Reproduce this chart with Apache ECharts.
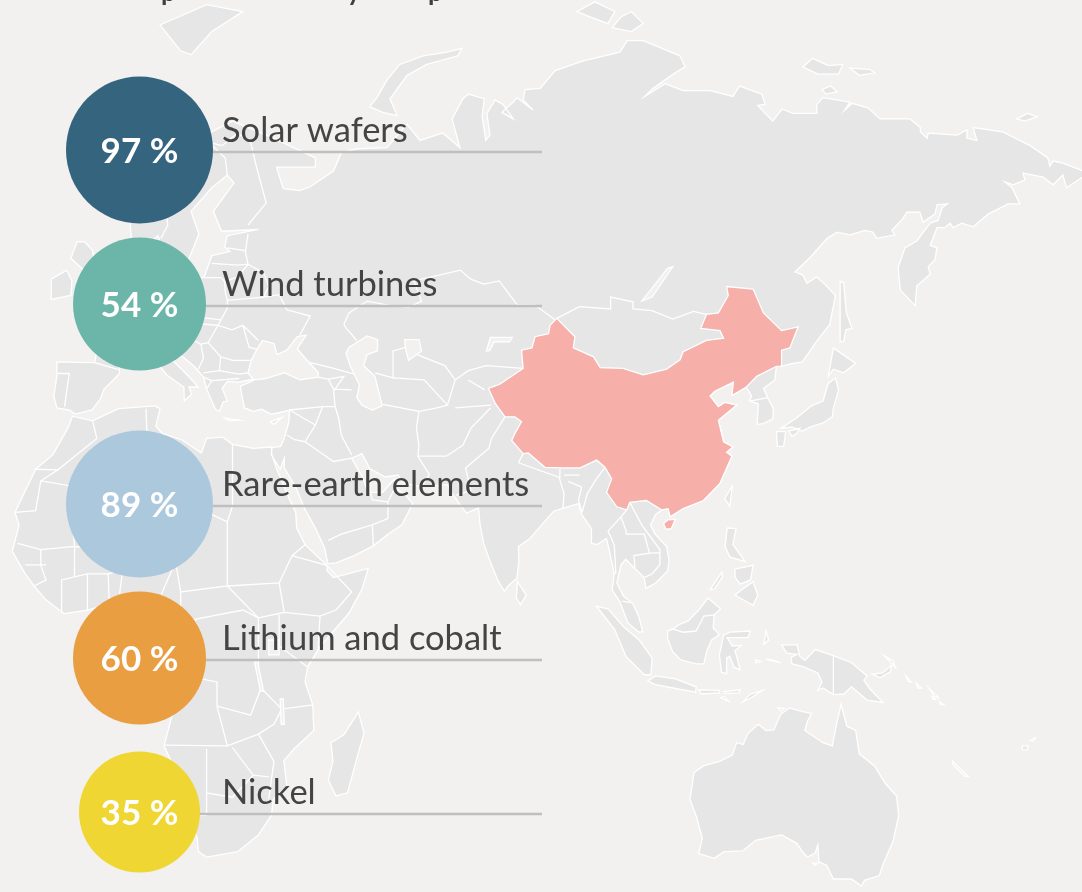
<!DOCTYPE html>
<html>
<head>
<meta charset="utf-8">
<title>China share</title>
<style>
  html, body { margin: 0; padding: 0; background: #f2f1ef; }
  #main { width: 1082px; height: 892px; }
</style>
<script src="https://cdn.jsdelivr.net/npm/echarts@6/dist/echarts.min.js"></script>
</head>
<body>
<div id="main"></div>
<script>
// chart values
var items = ['Solar wafers', 'Wind turbines', 'Rare-earth elements', 'Lithium and cobalt', 'Nickel']
var shares = [97, 54, 89, 60, 35]
var bubbleColors = ['#35647f', '#6cb6a9', '#acc8dc', '#e99e41', '#efd632']

// map outlines, lon,lat
var eurasia = '-9.5,38.7 -8.9,37 -6.4,36.7 -5.4,36.1 -2.1,36.7 -0.5,38.3 0.2,39.7 3.2,41.9 3.1,43.1 4.5,43.4 6.5,43.1 8.8,44.4 10.3,43.5 12.3,41.7 15.6,40 15.7,38 17.1,39 16.6,40 18.4,40 16,41.9 13.6,43.6 12.3,45.2 13.7,45.7 15.2,44.3 17.6,42.9 19.4,41.4 20,39.7 21.7,36.8 22.5,36.5 23.2,37.9 24,38 23,39.8 24,40.8 26.2,40.7 29,41.1 28,42 28.6,43.7 29.7,45.2 30.8,46.4 33,46 33.6,44.5 35.5,45.1 37.5,46.9 39.2,47.1 37.5,45.3 38.9,44.1 41.6,42 41.5,41.4 38,41 35,42 31.4,41.2 29.2,41 26.5,40.1 26.8,38.9 27.3,37 29,36.5 30.6,36.8 32.5,36.1 34,36.3 36,36.7 35.9,35 35,32.5 34.3,31.3 32.6,31.1 32.5,30 34.2,27.8 35,29.5 35,28 37.2,25 39,21.5 41,18.5 42.8,15.2 43.4,12.7 45,12.8 48.5,14 52.2,15.6 55,17.5 57.7,19 59.8,22.4 58.6,23.6 56.4,24.9 56.3,26.3 54,24.2 51.6,24.2 51.5,26 50.8,25 50,26.7 48,29.5 50,30.2 51.5,27.9 54.5,26.6 57,26.9 57.8,25.7 61.5,25.1 66.5,25.4 67.5,23.9 68.8,22.4 70.2,20.9 72.5,21.7 72.8,19 73.5,16 74.8,12.9 76.3,9.8 77.5,8.1 78.2,9 79.9,10.3 80.3,13.1 80.2,15.5 82.3,16.7 85.1,19.4 87,21.2 88.9,21.7 91.8,22.4 92.4,20.7 94.3,18.4 94.3,16 95.4,15.8 97.2,16.8 97.7,15 98.7,11 98.3,8.3 99.7,6.5 100.4,5 101.3,2.9 103.5,1.3 104.2,1.4 103.4,4 102.2,6.2 100.5,7.3 99.2,9.5 100,12.5 100.9,13.4 102.5,12 104.5,10.4 104.8,8.6 106.7,9.5 109,11.5 109.3,13.2 108.8,15.5 106.5,17.6 105.7,19 106.7,20.7 107.9,21.4 109.1,21.6 109.5,20.3 112,21.6 115.9,22.9 119.1,25.6 121.4,29.8 120.4,30.4 121.6,31.2 119.8,32 118.8,35.2 122.3,37.4 120,37.8 118.8,37.2 117.2,38.7 118.1,39.4 121.7,40.7 121.4,38.8 124.2,40 125.2,38.7 124.8,38 126.5,37.6 126.3,34.6 127.5,34.7 129.3,35.4 129.4,36.9 128.3,38.5 127.5,39.8 129.7,41 130,42.9 131,42.9 132.5,43.2 135,43.5 138,46.5 140.3,48.5 141.4,52.2 139.8,53.3 137.8,54.5 135.9,53.7 135.1,54.7 133.6,55.1 136.5,56.8 139.8,59 141.7,59.7 144.2,59.4 147.1,59.9 148.6,59.7 149.4,59 152.9,59.4 152.3,59.9 154.4,61.2 155.2,61.9 157.7,61.9 158.3,60.8 160.6,61.7 161,62.7 163,62.8 162,62.4 161.2,61 159.7,60.7 157.1,58.7 154.8,57.9 153.5,55.6 153.9,52.9 156.8,50.9 157.1,53.4 159.7,54.8 159.3,55.7 160.6,56.5 161,57.9 159.7,58.2 161,60.2 162.5,60.2 163.5,60.7 164.1,60.2 165.8,60.7 168,60.3 170.9,61.7 174.7,62.8 177,62.8 175.5,64.5 174.1,65.1 175.7,64.8 178,65.3 177.6,66 181.5,65.6 183.4,64.8 185.3,65.8 186,64.5 190.3,66 185.3,67 183.4,67.2 182.8,66.7 182.4,67.5 179,68.7 173.7,70 168,70.4 168.7,69.2 166.8,69.4 166.8,70.2 164.9,69.7 159.3,69.9 159.1,69.4 157.8,70 157.8,70.4 155.8,71.2 150,71.2 147.7,72.2 144.6,72.6 143.2,72 144.2,72.7 139,73.1 137.8,72.5 137.8,71.7 133.2,71.7 131.1,72.1 129.3,71 126.4,72.4 127.8,72.5 127.2,73.4 122.9,74.1 121.6,73.2 117.2,73.7 112,73.7 108.5,74.3 104.6,73.2 106.2,73.9 110.4,75.2 112.4,75.7 111.4,76.6 104.3,77.8 101.2,77.8 99.8,76.9 92.7,76.2 87.3,75.4 84.4,73.9 81.5,73.8 81.1,72.9 83,72 79.9,73.1 79.2,72.7 77,71.8 79.2,71.2 77.2,72.5 75.7,72.9 74.1,71.7 74.7,69.7 73.9,69.2 73.2,71.4 73.6,73 70.5,73.4 69.5,73 67.4,71.2 68.9,68.5 65.6,69.9 61.2,69.2 58.7,70.7 54.8,68.5 49,68.4 46,68 44.5,66.2 40,64.6 38,64.2 34.8,64.4 33.5,66.6 41,66.6 41,67.5 33,69.4 25,71 15,68.5 10.5,64.5 5,62 5.5,59 8,58 10.6,59.3 11.5,58 12.5,56 14.3,55.5 16.5,56.5 18.5,59.5 17,62 21,64.5 24,65.8 25.3,65 21.3,62 22.9,59.8 30,60 24,59.3 23.5,58 24.5,57.5 21,57 19.5,54.4 14.2,53.9 11,54 10,55 10.5,57.7 8.2,57 8.7,54 7,53.4 4.7,52.9 3.2,51.4 1.6,50.9 0,49.5 -1.5,49.6 -1.7,48.6 -4.7,48.4 -2.5,47.2 -1,45.7 -1.6,43.4 -8.9,43.5 -8.9,41.5'
var africa = '-5.9,35.8 -2,35.1 3,36.9 10,37.3 11,36.9 10.2,34.3 11.5,33.2 15.2,32.3 19,30.3 20,32.5 23.1,32.7 25,31.6 29,31 32.5,31.2 32.6,30 33.5,27.9 35.5,24 37.2,21 37.4,18.5 39,15.8 43.2,12.4 43.3,11.5 44.5,10.4 51.2,11.9 50,8.5 47.5,4.5 42,-1 39.5,-4.5 39,-7 40.5,-10.8 40.7,-15 37,-17.9 34.9,-19.9 35.5,-24 32.9,-26 32.5,-28.5 30,-31.5 26,-34 20,-34.8 18.4,-34 18.2,-32 16.5,-28.6 14.5,-22.5 11.8,-17.5 13.8,-11 12.2,-6 9,-1 9.7,3.5 8.5,4.6 6,4.3 4.4,6.3 1.2,6 -3,5 -7.5,4.4 -11,6.7 -13.3,9 -15,11 -17.5,14.7 -16.2,19 -17,21 -13,27.8 -9.7,30 -6.8,34'
var australia = '114.1,-21.8 116,-20.7 119,-20 121.5,-19 122.3,-17 123.6,-17.3 124.5,-15.5 126.5,-14 128,-15 129.5,-14.9 130.8,-12.4 132.5,-11.3 135.5,-12 136.8,-12.2 136,-13.5 135.5,-15 139,-17 140.8,-17.5 141.6,-14 142.5,-10.7 143.6,-14.3 145.3,-15 146,-18.8 149,-20.8 151,-23.5 153.2,-25.5 153.6,-28.6 152.5,-32.5 150.5,-36 149.9,-37.5 147,-38.2 146.4,-39 144.5,-38 141,-38 139.7,-36 138.2,-35.5 138,-33 137.5,-34.2 136,-34.8 135.2,-34.2 134,-32.8 131,-31.5 126,-32.3 123.5,-33.9 119.9,-34 118,-35 115,-34.3 115.7,-32 114.6,-28.8 113.3,-26 113.7,-24'
var islands = [
  '49.3,-12 50.4,-15.5 49.5,-18 47.2,-25 45,-25.5 43.5,-23 44.4,-20 44,-17 46.5,-15.7',
  '80,9.7 81.7,7.5 80.6,5.9 79.8,7',
  '-5.7,50 1.4,51.2 1.7,52.7 0,53.5 -1.6,55.5 -2,57.6 -3.5,58.6 -5,58.6 -6.2,56.7 -3,54.9 -3,53.4 -4.7,52.8 -5,51.7 -3,51.4',
  '-6.2,52.2 -6,54 -7,55.3 -10,54.2 -10,51.7',
  '11,79 15,77 17,76.7 21,78.5 27,80 20,80.5',
  '69.3,77.2 68.5,76.6 62.5,75.9 58.7,75 55.4,73 56.8,71.5 54,71.8 51.5,72.3 52.9,73.1 54.8,74.6 57.3,75.9 61.8,76.6 66.4,76.9',
  '91.5,80 95,80.7 98.8,80 97.5,79.1 94,79.6', '98.3,78.8 100,79.6 102,80 104.3,79.1 102,78.5',
  '135.1,75.7 137,76.4 140,75.8 142.8,75.9 142,75.1 138,75.1', '144.2,75.6 148,75.5 149,75.2 146,75', '138.8,73.8 140.5,74.1 141.7,73.6 139.5,73.4', '176.4,71.2 178.5,71.7 180.3,71.4 178,71',
  '142.3,53.9 143,53.8 143.5,50 144.6,48 143.4,47.8 143,46.3 142.3,46.2 142.3,50',
  '140,41.5 141,45.4 145.3,43.3 143,42 141,42.5',
  '130.9,34 134,35.6 136.8,37.3 139,38 140,40.5 141.4,41.3 142,39.5 141,37 140.8,35.7 139,34.8 136.5,34.2 135,33.6 133,34.2',
  '130,33.5 131.8,33.5 131.4,31.3 130.2,31.3', '132.4,33.6 134.5,34 134,33.3 133,32.8',
  '121.5,25.2 121,22 120,23.2',
  '120.5,18.5 122.2,18.4 121.6,15.8 124,13 121,13.8 120.1,15.5',
  '122,7.5 123.5,8.5 125.5,9.7 126.4,7.5 125.5,5.8 124,6.5',
  '122,11.8 125.5,12.4 125,10 123,9.3 122,10.5', '117.2,8.4 119.5,11.3 119.6,10.5 118,8.5',
  '95.3,5.6 97.5,5.2 100.5,2.2 103.5,0 106,-3 105.8,-5.8 104.5,-5.8 101,-2.8 98.8,1.7',
  '105.2,-6.8 106.7,-6 110.5,-6.5 114.5,-7.8 114.4,-8.7 110,-8 106.5,-7.4',
  '115,-8.3 119,-8.4 119,-8.8 115.5,-9', '119.9,-8.6 123,-8.3 122.8,-8.8 120,-8.9', '119.2,-9.6 120.8,-10.2 119.9,-9.4',
  '123.5,-10.3 125,-9 127.3,-8.4 125,-9.7',
  '109,1.5 110,1.8 111.3,2.6 113,3.2 115,5 116.8,7 119.2,5.2 118,4.2 117.8,2 119,0.9 117.5,0 116.5,-2 116,-4 114.5,-4 111.5,-3.3 110,-2 109,0.2',
  '119.8,0.8 121,1.3 125,1.5 124.5,0.4 120.5,0.4 121.5,-1 123.2,-0.9 122,-1.8 122.5,-3.3 123,-5 121.8,-4.5 121,-2.7 120.4,-3 120.4,-5.6 119.4,-5.4 119,-2.5',
  '131,-0.8 134,-0.8 134.5,-2.7 135.5,-3.4 137.5,-1.6 141,-2.6 144.5,-3.8 147.5,-6 146.9,-6.7 147.9,-8 150.6,-10.4 147.5,-10 144.5,-7.8 143,-9 141,-9.1 139,-8 138,-8.4 138.8,-7 138,-5.5 135,-4.4 133,-4 132.8,-2.9 134,-2.4 132,-2.2',
  '128,1.5 128.5,0 127.6,-0.7', '128,-3.2 130.8,-3.8 129.5,-3.4', '126,-3.3 127,-3.6 126,-3.8',
  '148.5,-5.7 150.5,-5.5 152.2,-4.2 152,-5.3 150,-6.3', '150.8,-2.6 153,-4.6 152.5,-3.5',
  '155,-6 156,-7 155.4,-6.9', '157,-7.2 158,-8 157.3,-8', '159.5,-8.1 161.3,-9.6 160.5,-9.4', '160,-9.4 160.8,-9.9 160.2,-9.9', '161.5,-10.3 162.3,-10.8 161.7,-10.7',
  '164,-20 167,-22.4 166.5,-22.4 164.2,-20.6', '177.5,-17.5 178.6,-17.5 178.4,-18.2 177.4,-18.1', '179,-16.6 180,-16.2 179.5,-16.8',
  '130.3,-11.3 131.5,-11.4 130.9,-11.8', '137,-35.7 138,-35.7 137.5,-36',
  '32.3,35 34.5,35.6 33,34.6', '23.5,35.5 26.3,35.2 24.5,35.1'
]
var china = '74.4,39.8 76.6,40.4 81.1,42.6 80.8,45.1 82.8,45.4 83.4,46.9 86,47.3 86.3,48.4 87.6,49.3 91.1,46.9 90.8,45.4 94.7,44.2 96,42.7 100.4,42.6 104.3,41.7 108.8,42.5 111.4,43.8 112,44.9 116.5,46.4 119.8,46.7 119.1,47.7 115.4,48 116.5,49.8 118.8,50 120.7,52.2 120.4,53.3 125.5,53 127.5,50 131,47.7 134.2,48.2 132.6,45.4 131,45.1 131,42.9 130,42.9 126.2,41.5 124.2,40 121.4,38.8 121.7,40.7 118.1,39.4 117.2,38.7 118.8,37.2 120,37.8 122.3,37.4 118.8,35.2 119.8,32 121.6,31.2 120.4,30.4 121.4,29.8 119.1,25.6 115.9,22.9 112,21.6 109.5,20.3 109.1,21.6 107.9,21.4 104.9,22.9 101.7,22.6 101.1,21.4 99.2,21.9 97.2,24.2 98.2,26.3 96.9,28.1 95.3,29.2 92.1,28 88.6,28 85.3,28.1 82.1,30.3 81.1,30.2 78.9,32.2 79.5,33.2 80.8,35 79.5,35.7 77.6,35.7 75.7,37.7'
var hainan = '108.2,19.2 109,19.8 110.5,19.9 109.7,18.4 108.7,18.3'
var waters = [
  '47.5,45.5 51,47 53,46.5 53,45 51,44.5 50.3,43 52.5,41.5 53,40 53.9,37.3 52,36.7 50,37.4 49,38.5 49.5,40.3 47.7,43 46.9,44.7',
  '58.2,46.5 61,46.5 61.5,45 59,43.7 58.5,45',
  '74,45 74.8,46.8 79,46.8 78.5,46.2 75.5,46.2 74.6,45',
  '104,51.5 109,55.5 110,55.7 106,52',
  '32,0 34,0 34,-2.5 32,-2.5',
  '29.2,-3.5 29.8,-3.5 31,-8.5 30.4,-8.5',
  '34.2,-9.8 34.8,-9.8 35,-14 34.4,-14'
]
var borders = [
  '40,43.4 44,42.7 48.5,41.8', '49,46.4 47,48 46.5,48.5 47.5,50 51,51.5 55,51 59,50.7 61.5,51.5 60,54 69,55.3 71,54.2 73.5,53.6 76.5,54 80,51 83.4,51 87.3,49.1',
  '87.6,49.3 92,50.8 98,50.5 98,52 102.3,51.4 102.3,50.5 106,50.3 110,49.2 114,50.2 116.5,49.8',
  '28,60.5 31.5,62.9 29.5,66.9 28.5,69 26,69.9 23,68.7 20.5,69 16,68 14,65 12,63 12.5,60.5 11.2,59', '24,65.8 23.6,67.5 20.5,69',
  '28,59.5 27.5,57.5 28,56 26,54.5 23.5,53.9 22.8,54.4 19.7,54.4', '24,57.9 27.5,57.6', '21,56.1 26,55.9 28,56',
  '28,56 31,55 32,53.3 31,52 24,51.6 23.6,52.6 23.5,53.9', '14.2,53.9 14.6,52 15,51 19,49.4 22.8,49.1 24,50.6 24,51.6',
  '31,52 34,52.3 35.5,50.4 40,49.6 38,47.1', '22.8,49.1 22.2,48.4 24.9,47.8 27,48.4 30,46.4', '27,48.4 28.2,45.5 29.7,45.2',
  '22.2,48.4 20.3,46.1 22.7,44.2 25,43.7 28.6,43.7', '22.7,44.2 22.5,42.3 26.3,41.8 28,42', '20,39.7 21,40.9 26.3,41.2',
  '2.5,51 6,49.5 8.2,49 7.5,47.6 6,46.4 7.5,43.8', '-1.6,43.4 3.2,42.4', '-8.9,41.9 -6.5,41.9 -7,39.5 -7.4,37.2',
  '6,49.5 6,51.8 7,53.4', '8.7,54.8 10,54.8', '15,51 12.2,50.3 13.8,48.7 13,47.5 9.6,47.6 7.5,47.6', '7,45.9 12,47 13.7,46.5 13.7,45.7',
  '13.8,48.7 17,48.7 16.2,46.9 13.7,46.5', '17,48.7 19,49.4', '17,48.7 22.2,48.4', '16.2,46.9 18.9,45.9 20.3,46.1', '18.9,45.9 19.4,44 18.4,42.5', '19.4,42 22.5,42.3', '19.4,41.4 21,40.9',
  '36,36.7 42.4,37.2 44.8,37.2 44.5,39.7 43.5,41.1 41.5,41.4', '43.5,41.1 46.5,41.5 44.8,39.7 48,39.6',
  '44.8,37.2 45.5,35.5 46,33 48,30', '42.4,37.2 41,34.5 39,32 37,32.3 35.5,33', '39,32 44.5,29 48,29.5', '36,36.7 41,34.5', '43.5,16.5 46,17.5 52,19 55,20 55,22.7 52,23 51.6,24.2', '55,22.7 56.4,24.9', '52.2,15.6 52,19',
  '61.5,25.1 63,27 60.8,29.8 61,31.5 60.5,34 61,36.5 54,37.5', '61,36.5 64.5,37 66.5,37.4 62,41 56,41.3', '52.5,42 56,41.3 56,45 58.5,45.5 61,44.4 66,43 68,41 70.5,42.3 74,43 81.1,42.6', '66.5,37.4 68,41', '70.5,41 73.7,39.6', '68,37 74.9,37.4',
  '60.8,29.8 66.3,29.8 69.5,31.5 71,34 74.8,37', '68.2,23.7 71,24.5 70,28 74.5,31 75,32.5 77.6,35.7', '80.2,28.8 88.2,26.5 88.2,27.8', '80.2,28.8 81.1,30.2', '89,26.9 92,26.9',
  '88.1,26.4 89,24 88.8,21.7', '89.8,25.9 92.4,25 91.8,23 92.5,21', '92.5,21 93.5,24 95,26 96.9,28.1', '101.1,21.4 100,20.3 97.5,18 98.7,15.8 99,11', '100,20.3 101,18 101,17.5 104.5,17.5 105.5,14.4 102.5,14 102.7,12',
  '101.7,22.6 104,19 107.5,15 107.5,12.5 106,11 104.5,10.4', '105.5,14.4 107.5,14.5', '100.2,6.5 102,6.2', '109.7,1.9 112,1.3 114.5,1.5 116,4 118,4.2', '141,-2.6 141,-9.1', '124.8,38 128.3,38.5',
  '-1.2,32.5 -8.7,27.7 -13,27.8', '-8.7,27.7 -12,26 -13,21.3 -17,21', '-12,26 -4.8,25 -6,21.3 -5.5,15.5 -12,15 -16.5,16', '-2,35.1 -1.2,32.5', '-4.8,25 3,19 5.8,19.5 12,23.5 9.5,30 8.5,33 8.3,36.9', '11.5,33.2 9.5,30', '12,23.5 15,23 24,19.5 25,22 25,31.6', '25,22 37,22',
  '3,19 3.8,11.7 14,13 15,23', '-5.5,15.5 4,15', '-12,15 -12,12.4 -11,10 -13.3,9', '14,13 15,8 24,9 24,19.5', '24,9 34,9.5 36.5,14 39,15.8', '24,9 30,3.7 35,4.6 34,9.5', '36.5,14 43.2,12.4', '43.2,12.4 48,8 45,5 41.9,4 35,4.6', '34,4.2 34,-1 39.5,-4.5', '39.5,-4.5 41.5,-1.7 41.9,4',
  '30,-1 30,-4.5 30.5,-8 34.5,-11.5 40.5,-10.8', '30,3.7 30,-1', '30.5,-8 28.5,-12.5 22,-11 22,-7 16,-6 12.2,-6', '12.2,-6 18,3.5 27,5 30,3.7', '15,8 15,3 18,3.5', '3,6.3 3.8,11.7', '9.7,4.5 14,13', '9.7,2.2 15,2.2', '11.3,-4 13,-2.5 14,1',
  '11.8,-17.4 24,-17.5 22,-11', '24,-17.5 30,-15.6 33,-14 34.5,-11.5', '30,-15.6 33,-20 32,-26', '20,-28.5 16.5,-28.6', '20,-28.5 20,-18', '20,-25 25,-25.7 29,-22.2 32,-22.5', '25,-17.8 29,-22.2',
  '-3,5 -3,11 1,11 1.2,6', '-8,4.5 -8,10 -3,11', '-5.5,10.5 -5.5,15.5', '4,11.7 1,11', '-15,12.5 -11,12.5'
]

// pixel layout of the rows
var rowY = [150, 304, 504, 658, 812]
var lineY = [152, 306, 506, 660, 814]
var bubbleX = 139.5
var textX = 222
var lineEndX = 542

function bubbleSize (value) {
  // the picture only uses three bubble sizes
  if (value >= 80) return 147
  if (value >= 50) return 133
  return 121
}

function toPath (text) {
  return text.split(' ').map(function (pair) {
    return pair.split(',').map(Number)
  })
}

function toRing (text) {
  var ring = toPath(text)
  ring.push(ring[0])
  return ring
}

function feature (name, type, coordinates) {
  return { type: 'Feature', properties: { name: name }, geometry: { type: type, coordinates: coordinates } }
}

var land = [eurasia, africa, australia].concat(islands)
var worldMap = {
  type: 'FeatureCollection',
  features: [
    feature('Land', 'MultiPolygon', land.map(function (t) { return [toRing(t)] })),
    feature('Borders', 'MultiLineString', borders.map(toPath)),
    feature('Waters', 'MultiPolygon', waters.map(function (t) { return [toRing(t)] })),
    feature('China', 'MultiPolygon', [[toRing(china)], [toRing(hainan)]])
  ]
}
echarts.registerMap('world', worldMap)

// Miller projection fitted to the picture
var lonScale = 5.18
var lonOrigin = 103
var latScale = 343
var latOrigin = 640
var mapProjection = {
  project: function (p) {
    var phi = p[1] * Math.PI / 180
    return [lonOrigin + lonScale * p[0], latOrigin - latScale * 1.25 * Math.log(Math.tan(Math.PI / 4 + 0.4 * phi))]
  },
  unproject: function (p) {
    var m = (latOrigin - p[1]) / latScale / 1.25
    return [(p[0] - lonOrigin) / lonScale, (Math.atan(Math.exp(m)) - Math.PI / 4) / 0.4 * 180 / Math.PI]
  }
}

var myChart = echarts.init(document.getElementById('main'))

var leaderSeries = items.map(function (name, i) {
  return {
    type: 'line',
    silent: true,
    symbol: 'none',
    z: 3,
    lineStyle: { color: '#bfbfbf', width: 2.5 },
    data: [[bubbleX, lineY[i]], [lineEndX, lineY[i]]]
  }
})

var option = {
  backgroundColor: '#f2f1ef',
  animation: false,
  tooltip: { show: false },
  grid: { left: 0, top: 0, width: 1082, height: 892 },
  xAxis: { type: 'value', min: 0, max: 1082, show: false },
  yAxis: { type: 'value', min: 0, max: 892, inverse: true, show: false },
  geo: {
    map: 'world',
    projection: mapProjection,
    boundingCoords: [mapProjection.unproject([0, 0]), mapProjection.unproject([1082, 892])],
    left: 0,
    top: 0,
    width: 1082,
    height: 892,
    roam: false,
    silent: true,
    z: 1,
    label: { show: false },
    itemStyle: { areaColor: '#e6e6e6', borderColor: '#ffffff', borderWidth: 1.3 },
    regions: [
      { name: 'China', itemStyle: { areaColor: '#f6b0a9' } },
      { name: 'Waters', itemStyle: { areaColor: '#f2f1ef' } }
    ]
  },
  graphic: [
    { type: 'text', left: 161, top: -20, silent: true, style: { text: 'p', fill: '#404040', font: 'bold 26px Lato' } },
    { type: 'text', left: 347, top: -20, silent: true, style: { text: 'y', fill: '#404040', font: 'bold 26px Lato' } },
    { type: 'text', left: 428, top: -20, silent: true, style: { text: 'p', fill: '#404040', font: 'bold 26px Lato' } }
  ],
  series: leaderSeries.concat([
    {
      type: 'scatter',
      silent: true,
      z: 4,
      data: shares.map(function (v, i) {
        return {
          value: [bubbleX, rowY[i], v],
          symbolSize: bubbleSize(v),
          itemStyle: { color: bubbleColors[i], opacity: 1 }
        }
      }),
      label: {
        show: true,
        position: 'inside',
        offset: [0, 2],
        formatter: function (p) { return p.value[2] + ' %' },
        color: '#fff',
        fontFamily: 'Lato',
        fontWeight: 'bold',
        fontSize: 35
      }
    },
    {
      type: 'scatter',
      silent: true,
      z: 5,
      symbolSize: 0,
      itemStyle: { opacity: 1 },
      data: items.map(function (name, i) { return { name: name, value: [textX, rowY[i] - 19] } }),
      label: {
        show: true,
        position: 'right',
        distance: 0,
        formatter: '{b}',
        color: '#444444',
        fontFamily: 'Lato',
        fontSize: 34.5
      }
    }
  ])
}
myChart.setOption(option)
</script>
</body>
</html>
